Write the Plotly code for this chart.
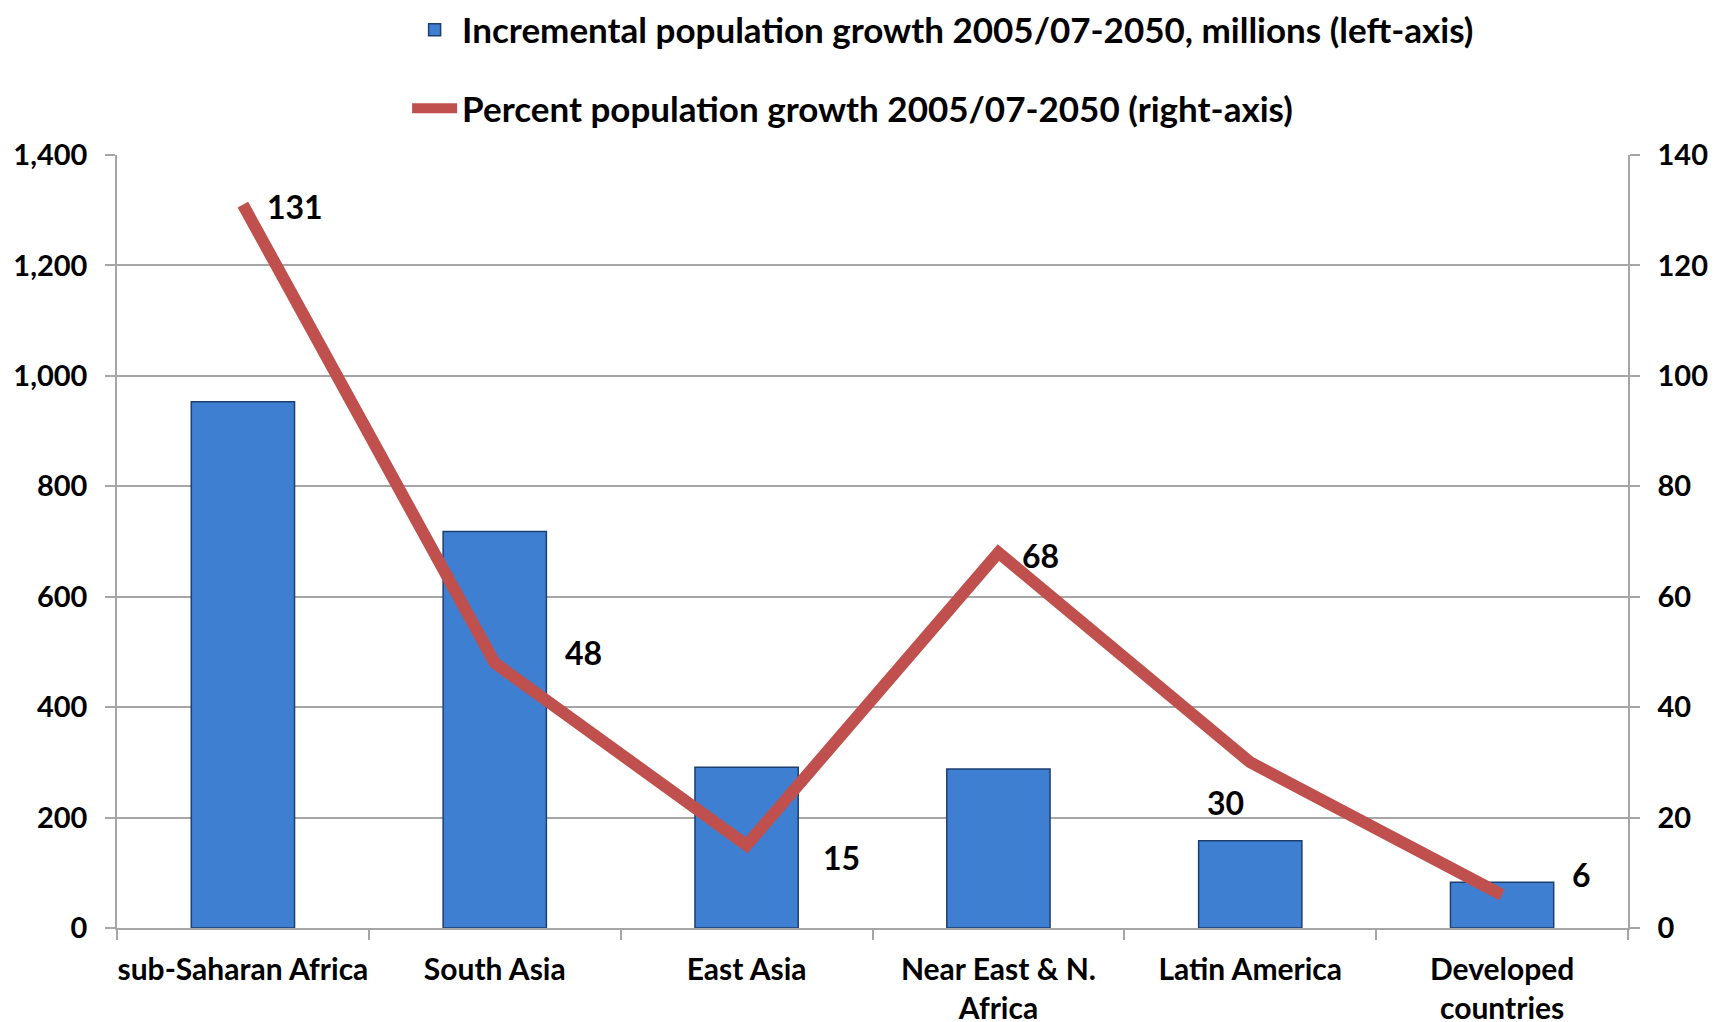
import plotly.graph_objects as go

categories = ["sub-Saharan Africa", "South Asia", "East Asia", "Near East & N.<br>Africa",
              "Latin America", "Developed<br>countries"]
incremental_millions = [953, 718, 291, 288, 158, 83]
percent_growth = [131, 48, 15, 68, 30, 6]
left_ticks = [0, 200, 400, 600, 800, 1000, 1200, 1400]
right_ticks = [0, 20, 40, 60, 80, 100, 120, 140]

bar_name = "Incremental population growth 2005/07-2050, millions (left-axis)"
line_name = "Percent population growth 2005/07-2050 (right-axis)"

# label offsets (px) for the line's data labels
label_dx = [22, 68, 74, 22, -45, 68]
label_dy = [-2, 10, -12, -3, -40, 20]

FONT = "Lato"
fig = go.Figure()
fig.add_trace(go.Bar(
    x=categories, y=incremental_millions, name=bar_name, legendgroup="a",
    marker=dict(color="#3F7FD2", line=dict(color="#1D3F6E", width=1.5)),
    width=0.41, yaxis="y",
))
fig.add_trace(go.Scatter(
    x=categories, y=percent_growth, name=line_name, legendgroup="b",
    mode="lines", line=dict(color="#C0504D", width=12), yaxis="y2",
))

for c, v, dx, dy in zip(categories, percent_growth, label_dx, label_dy):
    fig.add_annotation(x=c, y=v, yref="y2", text=str(v), showarrow=False,
                       xanchor="left", yanchor="middle", xshift=dx, yshift=dy,
                       font=dict(family=FONT, size=32, color="black", weight="bold"))

grid = "#A6A6A6"
fig.update_layout(
    width=1725, height=1022,
    margin=dict(l=109, r=105, t=147, b=102, autoexpand=False),
    plot_bgcolor="white", paper_bgcolor="white",
    font=dict(family=FONT, size=29, color="black", weight="bold"),
    bargap=0.59,
    legend=dict(x=0.192, xanchor="left", y=1.2, yanchor="top",
                traceorder="grouped", tracegroupgap=30,
                font=dict(family=FONT, size=35, color="black", weight="bold"),
                itemwidth=45, bgcolor="rgba(0,0,0,0)"),
    xaxis=dict(showline=True, linecolor=grid, linewidth=1.5, automargin=False,
               ticks="outside", tickson="boundaries", ticklen=10, tickcolor=grid,
               tickwidth=1.5, showgrid=False, tickangle=0, ticklabelstandoff=14,
               tickfont=dict(family=FONT, size=30, color="black", weight="bold")),
    yaxis=dict(range=[0, 1400], tickvals=left_ticks, tickformat=",d", automargin=False,
               showline=True, linecolor=grid, linewidth=1.5,
               ticks="outside", ticklen=10, tickcolor=grid, tickwidth=1.5,
               showgrid=True, gridcolor=grid, gridwidth=1.5, zeroline=False,
               ticklabelstandoff=12,
               tickfont=dict(family=FONT, size=29, color="black", weight="bold")),
    yaxis2=dict(range=[0, 140], tickvals=right_ticks, overlaying="y", side="right",
                showline=True, linecolor=grid, linewidth=1.5, automargin=False,
                ticks="outside", ticklen=10, tickcolor=grid, tickwidth=1.5,
                showgrid=False, zeroline=False, ticklabelstandoff=12,
                tickfont=dict(family=FONT, size=29, color="black", weight="bold")),
)

fig.write_html("out.html")
